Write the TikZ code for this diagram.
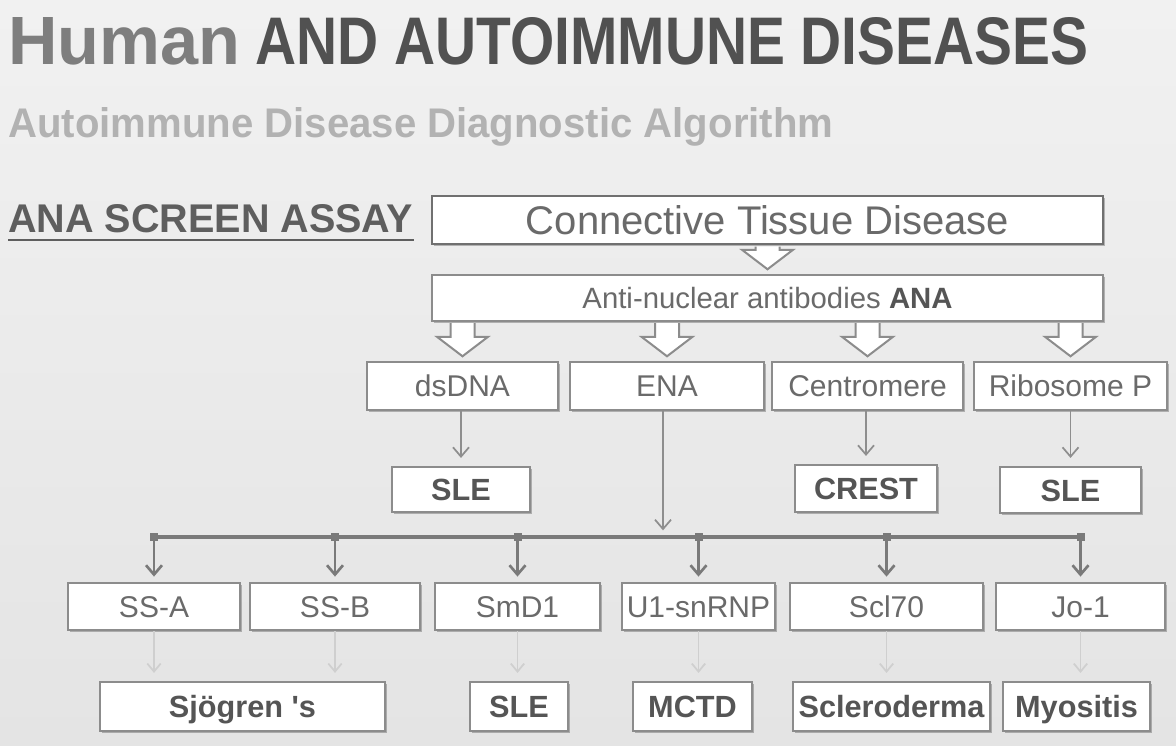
\documentclass[tikz,border=0pt]{standalone}
\usepackage{fontspec}
\setmainfont{Liberation Sans}
\usetikzlibrary{arrows.meta,shadows,calc}
\definecolor{bgtop}{HTML}{F1F1F1}
\definecolor{bgbot}{HTML}{E4E4E4}
\definecolor{boxline}{HTML}{8C8C8C}
\definecolor{txt}{HTML}{6A6A6A}
\definecolor{btxt}{HTML}{555555}
\definecolor{arr}{HTML}{8E8E8E}
\definecolor{darr}{HTML}{7A7A7A}
\definecolor{faintc}{HTML}{CFCFCF}
\begin{document}
\begin{tikzpicture}[x=0.75pt,y=-0.75pt,
  wh/.style 2 args={minimum width={#1*0.75pt},minimum height={#2*0.75pt}},
  box/.style={draw=boxline,line width=1.6pt,fill=white,inner sep=0pt,text=txt,
    drop shadow={shadow xshift=1.2pt,shadow yshift=-1.2pt,opacity=0.25,fill=black}},
  bigbox/.style={box,draw=HTML7,line width=2.2pt},
  rtxt/.style={font=\fontsize{22.5pt}{26pt}\selectfont,text height=16.2pt,text depth=0pt},
  btxtst/.style={font=\fontsize{23pt}{26pt}\selectfont\bfseries,text=btxt,text height=16.6pt,text depth=0pt},
  blk/.style={draw=boxline,line width=1.5pt,fill=white,line join=miter},
  thin/.style={draw=arr,line width=1.3pt,-{Straight Barb[length=7pt,width=12pt,line width=1.3pt]}},
  dropar/.style={draw=darr,line width=2pt,-{Straight Barb[length=7pt,width=12pt,line width=2pt]}},
  faint/.style={draw=faintc,line width=1.3pt,-{Straight Barb[length=6pt,width=10pt,line width=1.3pt]}},
  lbl/.style={inner sep=0pt,anchor=base west}
]
\colorlet{HTML7}{boxline!80!black}
\useasboundingbox (0,0) rectangle (1176,745);
\shade[top color=bgtop,bottom color=bgbot] (0,0) rectangle (1176,745);

% titles
\node[lbl,text=HTML7!90!white] (human) at (8,65) {\resizebox{174pt}{35.25pt}{\bfseries Human}};
\node[lbl,text=btxt!95!black] (title) at (255,65) {\resizebox{624.75pt}{35.25pt}{\bfseries AND AUTOIMMUNE DISEASES}};
\node[lbl,text=black!30] (sub) at (8,138) {\resizebox{618.75pt}{22.5pt}{\bfseries Autoimmune Disease Diagnostic Algorithm}};
\node[lbl,text=black!63] (ana-screen) at (8,233) {\resizebox{303.75pt}{21pt}{\bfseries ANA SCREEN ASSAY}};
\draw[black!63,line width=2pt] (ana-screen.base west) ++(0,7) coordinate (ul1) -- (ana-screen.base east |- ul1);

% main boxes
\node[bigbox,wh={671}{48},font=\fontsize{30pt}{34pt}\selectfont,text height=21.6pt,text depth=0pt] (ctd) at (767.5,220) {Connective Tissue Disease};
\node[box,wh={671}{46},font=\fontsize{22pt}{26pt}\selectfont,text height=15.9pt,text depth=0pt] (ana) at (767.5,298) {Anti-nuclear antibodies \textbf{\color{btxt}ANA}};

% row 2
\node[box,wh={191}{48},rtxt] (dsdna) at (462.5,386) {dsDNA};
\node[box,wh={194}{48},rtxt] (ena) at (667,386) {ENA};
\node[box,wh={191}{48},rtxt] (centro) at (867.5,386) {Centromere};
\node[box,wh={193}{48},rtxt] (ribo) at (1070.5,386) {Ribosome P};

% row 2 results
\node[box,wh={138}{45},btxtst] (sle1) at (461,489.5) {SLE};
\node[box,wh={142}{47},btxtst] (crest) at (866,488.5) {CREST};
\node[box,wh={141}{46},btxtst] (sle2) at (1070.5,490) {SLE};

% row 3
\node[box,wh={172}{47},rtxt] (ssa) at (154,606.5) {SS-A};
\node[box,wh={170}{47},rtxt] (ssb) at (335,606.5) {SS-B};
\node[box,wh={165}{47},rtxt] (smd1) at (517.5,606.5) {SmD1};
\node[box,wh={153}{47},rtxt] (u1) at (698.5,606.5) {U1-snRNP};
\node[box,wh={193}{47},rtxt] (scl) at (886.5,606.5) {Scl70};
\node[box,wh={169}{47},rtxt] (jo1) at (1080.5,606.5) {Jo-1};

% row 4
\node[box,wh={285}{49},btxtst] (sjo) at (242.5,706.5) {Sjögren \textquotesingle s};
\node[box,wh={98}{49},btxtst] (sle3) at (519,706.5) {SLE};
\node[box,wh={119}{49},btxtst] (mctd) at (692.5,706.5) {MCTD};
\node[box,wh={197}{49},btxtst] (sclero) at (891.5,706.5) {Scleroderma};
\node[box,wh={147}{49},btxtst] (myo) at (1076.5,706.5) {Myositis};

% block arrows
\newcommand\blockarr[2]{%
  \draw[blk] let \p1=(#1.south), \p2=(#2.north) in
    (\x2-9pt,\y1-0.8pt) -- (\x2-9pt,\y2+18pt) -- (\x2-19pt,\y2+18pt) -- (\x2,\y2+3.5pt)
    -- (\x2+19pt,\y2+18pt) -- (\x2+9pt,\y2+18pt) -- (\x2+9pt,\y1-0.8pt);}
\blockarr{ctd}{ana}
\blockarr{ana}{dsdna}
\blockarr{ana}{ena}
\blockarr{ana}{centro}
\blockarr{ana}{ribo}

% thin arrows
\draw[thin,shorten >=6pt] (sle1.north |- dsdna.south) -- (sle1.north);
\draw[thin,shorten >=6pt] (crest.north |- centro.south) -- (crest.north);
\draw[thin,shorten >=6pt] (sle2.north |- ribo.south) -- (sle2.north);

% bar
\coordinate (barL) at (ssa.north |- 0,537);
\coordinate (barR) at (jo1.north |- 0,537);
\draw[thin,shorten >=5pt] ([xshift=-3pt]ena.south) -- ([xshift=-3pt]ena.south |- barL);
\draw[draw=darr,line width=3pt] (barL) -- (barR);
\foreach \n in {ssa,ssb,smd1,u1,scl,jo1}{
  \draw[dropar,shorten >=4pt] (\n.north |- barL) -- (\n.north);
  \fill[darr] ($(\n.north |- barL)+(-4,-4)$) rectangle ($(\n.north |- barL)+(4,4)$);
}

% faint arrows
\draw[faint] (ssa.south) -- ($(ssa.south |- sjo.north)+(0,-8)$);
\draw[faint] (ssb.south) -- ($(ssb.south |- sjo.north)+(0,-8)$);
\draw[faint] (smd1.south) -- ($(smd1.south |- sle3.north)+(0,-8)$);
\draw[faint] (u1.south) -- ($(u1.south |- mctd.north)+(0,-8)$);
\draw[faint] (scl.south) -- ($(scl.south |- sclero.north)+(0,-8)$);
\draw[faint] (jo1.south) -- ($(jo1.south |- myo.north)+(0,-8)$);
\end{tikzpicture}
\end{document}
